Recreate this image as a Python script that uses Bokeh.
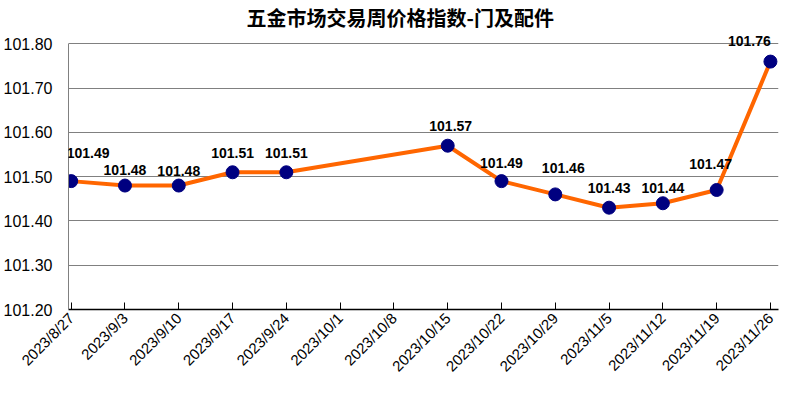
import math
from bokeh.plotting import figure
from bokeh.models import ColumnDataSource, FixedTicker, Range1d, LabelSet
from bokeh.core.properties import value
from bokeh.embed import file_html
from bokeh.resources import INLINE

title_text = "五金市场交易周价格指数-门及配件"
dates = ["2023/8/27", "2023/9/3", "2023/9/10", "2023/9/17", "2023/9/24",
         "2023/10/1", "2023/10/8", "2023/10/15", "2023/10/22", "2023/10/29",
         "2023/11/5", "2023/11/12", "2023/11/19", "2023/11/26"]
index_values = [101.49, 101.48, 101.48, 101.51, 101.51,
                None, None, 101.57, 101.49, 101.46,
                101.43, 101.44, 101.47, 101.76]
y_ticks = [101.20, 101.30, 101.40, 101.50, 101.60, 101.70, 101.80]

# label placement (pixel offsets, styling only)
label_dx = [17, 0, 0, 0, 0, 3, 0, 8, 0, 0, -6, -21]
label_dy = [28, 16, 15, 19, 19, 20, 18, 26, 20, 15, 26, 21]

xs = [i for i, v in enumerate(index_values) if v is not None]
ys = [v for v in index_values if v is not None]
labels = ["%.2f" % v for v in ys]
src = ColumnDataSource(dict(x=xs, y=ys, label=labels, dx=label_dx, dy=label_dy))

p = figure(width=780, height=383, output_backend="svg", toolbar_location=None,
           x_range=Range1d(-0.05, 13.15), y_range=Range1d(101.20, 101.828),
           min_border_left=59, min_border_right=2, min_border_top=24,
           min_border_bottom=0)
p.outline_line_color = None
p.background_fill_color = "white"
p.border_fill_color = "white"

p.title.text = title_text
p.title.text_font = "Noto Sans CJK SC"
p.title.text_font_style = "bold"
p.title.text_font_size = "20px"
p.title.align = "left"
p.title.offset = 178
p.title.standoff = 0
p.title.text_color = "black"

p.line(xs, ys, line_color="#FF6600", line_width=4)
p.scatter("x", "y", source=src, size=13, fill_color="#000080", line_color="#000080")
labelset = LabelSet(x="x", y="y", text="label", source=src, x_offset="dx", y_offset="dy",
                    text_align="center", text_baseline="middle",
                    text_font=value("Liberation Sans"), text_font_style="bold",
                    text_font_size="14px", text_color="black")
p.add_layout(labelset)

p.xaxis.ticker = FixedTicker(ticks=list(range(len(dates))))
p.xaxis.major_label_overrides = {i: d for i, d in enumerate(dates)}
p.xaxis.major_label_orientation = math.pi / 4
p.xaxis.major_label_text_font = "Liberation Sans"
p.xaxis.major_label_text_font_size = "15px"
p.xaxis.major_label_text_color = "black"
p.xaxis.axis_line_color = "black"
p.xaxis.axis_line_width = 1.5
p.xaxis.major_tick_line_color = "black"
p.xaxis.major_tick_in = 7
p.xaxis.major_tick_out = 0
p.xaxis.minor_tick_line_color = None
p.xaxis.major_label_standoff = 6

p.yaxis.ticker = FixedTicker(ticks=y_ticks)
p.yaxis.bounds = (y_ticks[0], y_ticks[-1])
p.yaxis.major_label_overrides = {t: "%.2f" % t for t in y_ticks}
p.yaxis.major_label_text_font = "Liberation Sans"
p.yaxis.major_label_text_font_size = "16px"
p.yaxis.major_label_text_color = "black"
p.yaxis.axis_line_color = "#808080"
p.yaxis.major_tick_line_color = None
p.yaxis.minor_tick_line_color = None
p.yaxis.major_label_standoff = 10

p.xgrid.grid_line_color = None
p.ygrid.grid_line_color = "#808080"
p.ygrid.grid_line_width = 1

open("out.html", "w").write(file_html(p, INLINE))
